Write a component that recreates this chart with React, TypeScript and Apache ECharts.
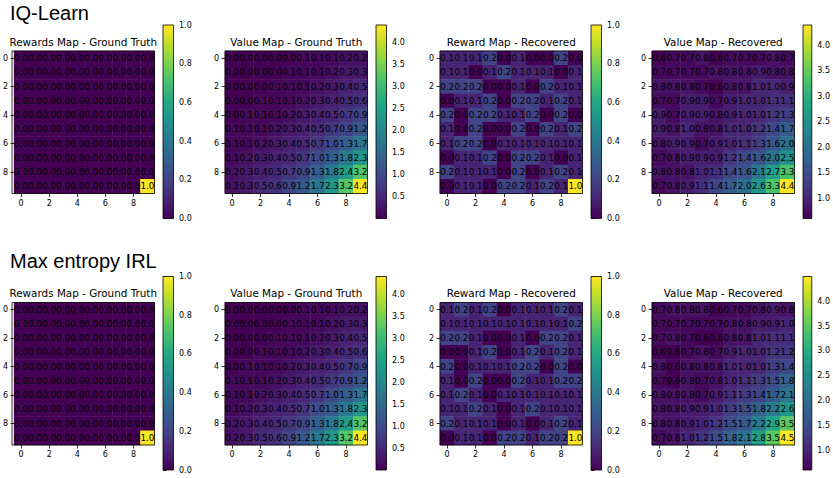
import React, { useEffect, useRef } from "react";
import * as echarts from "echarts";

// ---------- data ----------
const gridIndexLabels = ["0", "1", "2", "3", "4", "5", "6", "7", "8", "9"];

const rewardGT = [
  [0.0, 0.0, 0.0, 0.0, 0.0, 0.0, 0.0, 0.0, 0.0, 0.0],
  [0.0, 0.0, 0.0, 0.0, 0.0, 0.0, 0.0, 0.0, 0.0, 0.0],
  [0.0, 0.0, 0.0, 0.0, 0.0, 0.0, 0.0, 0.0, 0.0, 0.0],
  [0.0, 0.0, 0.0, 0.0, 0.0, 0.0, 0.0, 0.0, 0.0, 0.0],
  [0.0, 0.0, 0.0, 0.0, 0.0, 0.0, 0.0, 0.0, 0.0, 0.0],
  [0.0, 0.0, 0.0, 0.0, 0.0, 0.0, 0.0, 0.0, 0.0, 0.0],
  [0.0, 0.0, 0.0, 0.0, 0.0, 0.0, 0.0, 0.0, 0.0, 0.0],
  [0.0, 0.0, 0.0, 0.0, 0.0, 0.0, 0.0, 0.0, 0.0, 0.0],
  [0.0, 0.0, 0.0, 0.0, 0.0, 0.0, 0.0, 0.0, 0.0, 0.0],
  [0.0, 0.0, 0.0, 0.0, 0.0, 0.0, 0.0, 0.0, 0.0, 1.0],
];

const valueGT = [
  [0.0, 0.0, 0.0, 0.0, 0.0, 0.1, 0.1, 0.1, 0.2, 0.2],
  [0.0, 0.0, 0.0, 0.0, 0.1, 0.1, 0.1, 0.2, 0.3, 0.3],
  [0.0, 0.0, 0.0, 0.1, 0.1, 0.1, 0.2, 0.3, 0.4, 0.5],
  [0.0, 0.0, 0.1, 0.1, 0.1, 0.2, 0.3, 0.4, 0.5, 0.6],
  [0.0, 0.1, 0.1, 0.1, 0.2, 0.3, 0.4, 0.5, 0.7, 0.9],
  [0.1, 0.1, 0.1, 0.2, 0.3, 0.4, 0.5, 0.7, 0.9, 1.2],
  [0.1, 0.1, 0.2, 0.3, 0.4, 0.5, 0.7, 1.0, 1.3, 1.7],
  [0.1, 0.2, 0.3, 0.4, 0.5, 0.7, 1.0, 1.3, 1.8, 2.3],
  [0.2, 0.3, 0.4, 0.5, 0.7, 0.9, 1.3, 1.8, 2.4, 3.2],
  [0.2, 0.3, 0.5, 0.6, 0.9, 1.2, 1.7, 2.3, 3.2, 4.4],
];

const iqRewardRec = [
  [0.1, 0.1, 0.1, 0.2, 0.0, 0.1, 0.0, 0.0, 0.2, 0.0],
  [0.1, 0.1, 0.0, 0.1, 0.2, 0.1, 0.1, 0.1, 0.0, 0.1],
  [0.2, 0.2, 0.2, 0.0, 0.0, 0.1, 0.0, 0.2, 0.1, 0.1],
  [0.0, 0.1, 0.1, 0.2, 0.0, 0.2, 0.2, 0.1, 0.2, 0.1],
  [0.2, 0.0, 0.2, 0.2, 0.1, 0.1, 0.2, 0.0, 0.2, 0.0],
  [0.1, 0.0, 0.2, 0.0, 0.0, 0.2, 0.0, 0.2, 0.1, 0.2],
  [0.1, 0.2, 0.2, 0.0, 0.1, 0.1, 0.1, 0.1, 0.1, 0.1],
  [0.0, 0.1, 0.1, 0.2, 0.0, 0.2, 0.2, 0.1, 0.0, 0.1],
  [0.2, 0.1, 0.1, 0.1, 0.0, 0.2, 0.0, 0.1, 0.2, 0.1],
  [0.0, 0.1, 0.1, 0.0, 0.2, 0.2, 0.1, 0.2, 0.1, 1.0],
];

const iqValueRec = [
  [0.6, 0.7, 0.7, 0.8, 0.6, 0.7, 0.7, 0.7, 0.8, 0.7],
  [0.7, 0.7, 0.7, 0.7, 0.8, 0.8, 0.8, 0.9, 0.8, 0.8],
  [0.8, 0.8, 0.8, 0.7, 0.6, 0.8, 0.8, 1.0, 1.0, 0.9],
  [0.7, 0.7, 0.9, 0.9, 0.7, 0.9, 1.0, 1.0, 1.1, 1.1],
  [0.9, 0.7, 0.9, 0.9, 0.8, 0.9, 1.0, 1.0, 1.2, 1.3],
  [0.9, 0.8, 1.0, 0.8, 0.8, 1.0, 1.0, 1.2, 1.4, 1.7],
  [0.8, 0.9, 0.9, 0.7, 0.9, 1.0, 1.1, 1.3, 1.6, 2.0],
  [0.7, 0.8, 0.9, 0.9, 0.9, 1.2, 1.4, 1.6, 2.0, 2.5],
  [0.8, 0.8, 0.8, 1.0, 1.1, 1.4, 1.6, 2.1, 2.7, 3.3],
  [0.7, 0.8, 0.9, 1.1, 1.4, 1.7, 2.0, 2.6, 3.3, 4.4],
];

const meRewardRec = [
  [0.1, 0.2, 0.1, 0.2, 0.0, 0.1, 0.1, 0.1, 0.2, 0.1],
  [0.1, 0.1, 0.1, 0.1, 0.1, 0.1, 0.1, 0.1, 0.1, 0.2],
  [0.2, 0.2, 0.1, 0.0, 0.0, 0.1, 0.0, 0.2, 0.2, 0.1],
  [0.0, 0.0, 0.1, 0.2, 0.0, 0.1, 0.2, 0.1, 0.2, 0.1],
  [0.2, 0.0, 0.1, 0.1, 0.1, 0.2, 0.2, 0.0, 0.2, 0.0],
  [0.1, 0.0, 0.2, 0.0, 0.0, 0.2, 0.1, 0.1, 0.2, 0.2],
  [0.1, 0.2, 0.1, 0.0, 0.1, 0.1, 0.1, 0.1, 0.1, 0.1],
  [0.1, 0.1, 0.2, 0.1, 0.0, 0.1, 0.2, 0.1, 0.1, 0.1],
  [0.2, 0.1, 0.1, 0.1, 0.0, 0.1, 0.0, 0.1, 0.2, 0.1],
  [0.0, 0.1, 0.1, 0.0, 0.2, 0.2, 0.1, 0.2, 0.2, 1.0],
];

const meValueRec = [
  [0.7, 0.8, 0.8, 0.8, 0.6, 0.7, 0.7, 0.8, 0.9, 0.8],
  [0.7, 0.7, 0.7, 0.7, 0.7, 0.8, 0.8, 0.9, 0.9, 1.0],
  [0.7, 0.8, 0.7, 0.6, 0.6, 0.8, 0.8, 1.0, 1.1, 1.1],
  [0.6, 0.6, 0.7, 0.8, 0.7, 0.9, 1.0, 1.0, 1.2, 1.2],
  [0.8, 0.6, 0.8, 0.8, 0.8, 1.0, 1.0, 1.0, 1.3, 1.4],
  [0.7, 0.6, 0.8, 0.7, 0.8, 1.0, 1.1, 1.3, 1.5, 1.8],
  [0.8, 0.8, 0.8, 0.7, 0.9, 1.1, 1.3, 1.4, 1.7, 2.1],
  [0.8, 0.8, 0.9, 0.9, 1.0, 1.3, 1.5, 1.8, 2.2, 2.6],
  [0.8, 0.8, 0.9, 1.0, 1.2, 1.5, 1.7, 2.2, 2.9, 3.5],
  [0.7, 0.8, 1.0, 1.2, 1.5, 1.8, 2.1, 2.8, 3.5, 4.5],
];

const rewardTicks = [0.0, 0.2, 0.4, 0.6, 0.8, 1.0];
const valueGTTicks = [0.5, 1.0, 1.5, 2.0, 2.5, 3.0, 3.5, 4.0];
const valueRecTicks = [1.0, 1.5, 2.0, 2.5, 3.0, 3.5, 4.0];

const rowLabels = ["IQ-Learn", "Max entropy IRL"];
const panelTitles = [
  "Rewards Map - Ground Truth",
  "Value Map - Ground Truth",
  "Reward Map - Recovered",
  "Value Map - Recovered",
];
const rowMaps = [
  [rewardGT, valueGT, iqRewardRec, iqValueRec],
  [rewardGT, valueGT, meRewardRec, meValueRec],
];
const columnTicks = [rewardTicks, valueGTTicks, rewardTicks, valueRecTicks];

// ---------- styling / layout ----------
const VIRIDIS = [
  "#440154", "#482475", "#414487", "#355f8d", "#2a788e", "#21918c",
  "#22a884", "#44bf70", "#7ad151", "#bddf26", "#fde725",
];
const FONT = "DejaVu Sans";
const PANEL_LEFT = [12, 225, 440, 652];
const MAP_TOP = [51, 302.5];
const MAP_SIZE = 142.5;
const CB_OFFSET = 151;
const CB_WIDTH = 10.5;
const CB_TOP = [25, 276.5];
const CB_HEIGHT = 193.5;
const ROW_LABEL_Y = [13, 260.7];

function buildOption() {
  const grid: any[] = [];
  const xAxis: any[] = [];
  const yAxis: any[] = [];
  const series: any[] = [];
  const visualMap: any[] = [];
  const graphic: any[] = [];

  const stops = VIRIDIS.map((c, i) => ({ offset: i / (VIRIDIS.length - 1), color: c }));

  rowMaps.forEach((maps, r) => {
    graphic.push({
      type: "text",
      x: 10,
      y: ROW_LABEL_Y[r],
      silent: true,
      style: {
        text: rowLabels[r],
        fontSize: 20,
        fontFamily: "Liberation Sans",
        fill: "#000",
        align: "left",
        verticalAlign: "middle",
      },
    });
    maps.forEach((m, c) => {
      const idx = r * 4 + c;
      const left = PANEL_LEFT[c];
      const top = MAP_TOP[r];
      const flat = m.flat();
      const vmin = Math.min(...flat);
      const vmax = Math.max(...flat);
      const cells: number[][] = [];
      m.forEach((row, ri) => row.forEach((v, ci) => cells.push([ci, ri, v])));

      // heatmap grid
      grid.push({ left, top, width: MAP_SIZE, height: MAP_SIZE, containLabel: false });
      // colorbar grid
      grid.push({ left: left + CB_OFFSET, top: CB_TOP[r], width: CB_WIDTH, height: CB_HEIGHT, containLabel: false });

      const tickStyle = { show: true, alignWithLabel: true, interval: 1, length: 3.5, lineStyle: { color: "#000", width: 0.8 } };
      const labelStyle = { interval: 1, fontSize: 8, color: "#000", fontFamily: FONT };
      xAxis.push({
        gridIndex: 2 * idx,
        type: "category",
        data: gridIndexLabels,
        axisLine: { show: false },
        axisTick: tickStyle,
        axisLabel: { ...labelStyle, margin: 5.5 },
        splitLine: { show: false },
        splitArea: { show: false },
      });
      yAxis.push({
        gridIndex: 2 * idx,
        type: "category",
        data: gridIndexLabels,
        inverse: true,
        axisLine: { show: false },
        axisTick: tickStyle,
        axisLabel: { ...labelStyle, margin: 6 },
        splitLine: { show: false },
        splitArea: { show: false },
      });
      xAxis.push({ gridIndex: 2 * idx + 1, type: "value", min: 0, max: 1, show: false });
      yAxis.push({
        gridIndex: 2 * idx + 1,
        type: "value",
        position: "right",
        min: vmin,
        max: vmax,
        axisLine: { show: false },
        splitLine: { show: false },
        axisTick: {
          show: true,
          length: 3.5,
          customValues: columnTicks[c],
          lineStyle: { color: "#000", width: 0.8 },
        },
        axisLabel: {
          customValues: columnTicks[c],
          formatter: (v: number) => v.toFixed(1),
          fontSize: 8,
          color: "#000",
          fontFamily: FONT,
          margin: 5.5,
        },
      });

      series.push({
        type: "heatmap",
        xAxisIndex: 2 * idx,
        yAxisIndex: 2 * idx,
        data: cells,
        itemStyle: { borderWidth: 0 },
        emphasis: { disabled: true },
        label: {
          show: true,
          formatter: (p: any) => Number(p.value[2]).toFixed(1),
          color: "#000",
          fontSize: 8.8,
          fontFamily: FONT,
        },
      });
      series.push({
        type: "custom",
        xAxisIndex: 2 * idx + 1,
        yAxisIndex: 2 * idx + 1,
        data: [[0.5, vmin, vmax]],
        silent: true,
        clip: false,
        renderItem: (params: any, api: any) => {
          const pTop = api.coord([0.5, api.value(2)]);
          const pBot = api.coord([0.5, api.value(1)]);
          const cs = params.coordSys;
          return {
            type: "rect",
            shape: { x: cs.x, y: pTop[1], width: cs.width, height: pBot[1] - pTop[1] },
            style: {
              fill: new echarts.graphic.LinearGradient(0, 1, 0, 0, stops),
              stroke: "#000",
              lineWidth: 0.8,
            },
          };
        },
      });
      visualMap.push({
        type: "continuous",
        show: false,
        seriesIndex: 2 * idx,
        dimension: 2,
        min: vmin,
        max: vmax,
        inRange: { color: VIRIDIS },
      });

      graphic.push({
        type: "rect",
        silent: true,
        z: 100,
        shape: { x: left, y: top, width: MAP_SIZE, height: MAP_SIZE },
        style: { fill: "none", stroke: "#000", lineWidth: 0.8 },
      });
      graphic.push({
        type: "text",
        silent: true,
        x: left + MAP_SIZE / 2,
        y: top - 4.4,
        style: {
          text: panelTitles[c],
          fontSize: 10.4,
          fontFamily: FONT,
          fill: "#000",
          align: "center",
          verticalAlign: "bottom",
        },
      });
    });
  });

  return {
    animation: false,
    backgroundColor: "#fff",
    grid,
    xAxis,
    yAxis,
    visualMap,
    series,
    graphic,
  };
}

export default function App() {
  const ref = useRef<HTMLDivElement>(null);
  useEffect(() => {
    document.body.style.margin = "0";
    if (!ref.current) return;
    const chart = echarts.init(ref.current, undefined, { renderer: "svg" });
    chart.setOption(buildOption() as any);
    return () => chart.dispose();
  }, []);
  return <div ref={ref} style={{ width: 833, height: 478 }} />;
}
